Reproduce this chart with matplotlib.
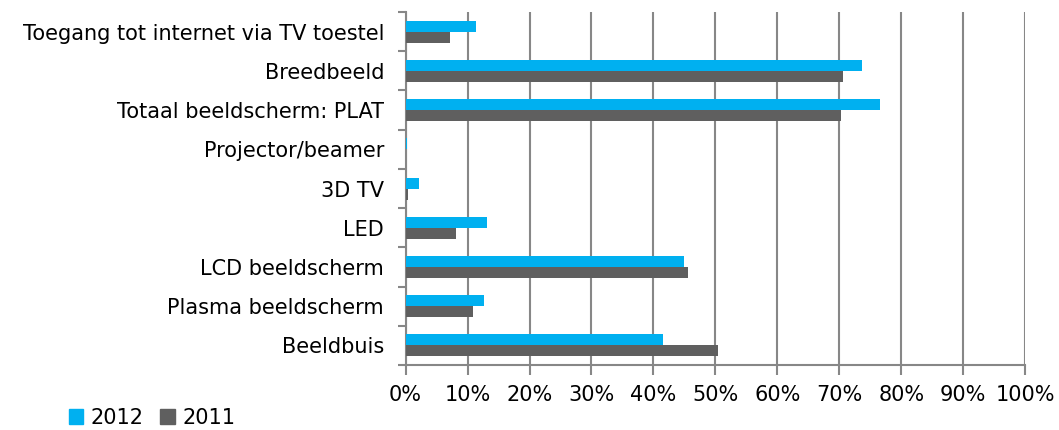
import matplotlib.pyplot as plt
import numpy as np
from matplotlib.ticker import FixedLocator, PercentFormatter
from matplotlib.patches import Patch

categories = ['Beeldbuis', 'Plasma beeldscherm', 'LCD beeldscherm', 'LED', '3D TV',
              'Projector/beamer', 'Totaal beeldscherm: PLAT', 'Breedbeeld',
              'Toegang tot internet via TV toestel']
v2012 = [41.5, 12.7, 45.0, 13.1, 2.1, 0.2, 76.5, 73.7, 11.3]
v2011 = [50.5, 10.9, 45.6, 8.1, 0.4, 0.0, 70.3, 70.6, 7.2]

c2012 = '#00B0F0'
c2011 = '#5F5F5F'
grid = '#878787'

plt.rcParams['font.family'] = 'DejaVu Sans'
fig = plt.figure(figsize=(10.59, 4.30), dpi=100)
ax = fig.add_axes([0.383, 0.151, 0.585, 0.821])

y = np.arange(len(categories))
h = 0.28
ax.barh(y + h / 2, v2012, height=h, color=c2012, label='2012', zorder=3)
ax.barh(y - h / 2, v2011, height=h, color=c2011, label='2011', zorder=3)

ax.set_xlim(0, 100)
ax.set_ylim(-0.5, len(categories) - 0.5)
ax.xaxis.set_major_locator(FixedLocator(np.arange(0, 101, 10)))
ax.xaxis.set_major_formatter(PercentFormatter(decimals=0))
ax.set_yticks(y)
ax.set_yticklabels(categories)
ax.yaxis.set_minor_locator(FixedLocator(np.arange(-0.5, len(categories), 1)))
ax.tick_params(axis='y', which='major', length=0, labelsize=15, pad=15.5)
ax.tick_params(axis='y', which='minor', length=6, width=1.5, color=grid)
ax.tick_params(axis='x', length=7, width=1.5, color=grid, labelsize=15, pad=7)
ax.grid(axis='x', color=grid, linewidth=1.5, zorder=0)
for s in ['top', 'right']:
    ax.spines[s].set_visible(False)
for s in ['left', 'bottom']:
    ax.spines[s].set_color(grid)
    ax.spines[s].set_linewidth(1.5)

handles = [Patch(color=c2012), Patch(color=c2011)]
fig.legend(handles, ['2012', '2011'], loc='center left', bbox_to_anchor=(0.055, 0.028),
           ncol=2, frameon=False, fontsize=15, handlelength=0.7, handleheight=0.7,
           handletextpad=0.35, columnspacing=0.8, borderpad=0)

fig.savefig('out.png', dpi=100)
